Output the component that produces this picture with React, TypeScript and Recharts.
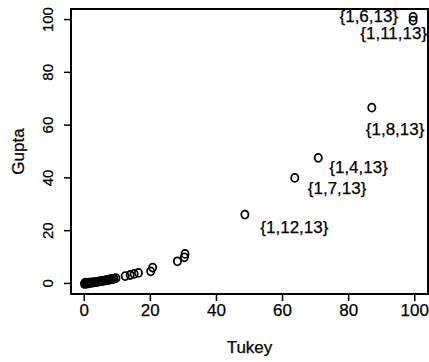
import { ScatterChart, Scatter, XAxis, YAxis, ReferenceArea } from "recharts";

const FONT = '"Liberation Sans", Arial, Helvetica, sans-serif';

// Tukey vs Gupta scores
const tukey = [
  99.5, 99.5, 87.0, 70.8, 63.7, 48.6,
  30.5, 30.3, 28.2, 20.7, 20.1, 16.4, 15.1, 13.9, 12.4,
  9.6, 9.0, 8.6, 8.2, 7.8, 7.4, 6.9, 6.5, 6.0, 5.6, 5.2, 4.8, 4.3, 3.9, 3.4, 3.0, 2.5, 2.2, 1.8,
  1.5, 1.2, 1.0, 0.8, 0.5, 0.3, 0.2, 0.1,
];
const gupta = [
  101.0, 99.6, 66.6, 47.6, 40.0, 26.1,
  11.2, 9.9, 8.4, 6.0, 4.6, 4.0, 3.6, 3.2, 2.8,
  2.0, 1.8, 1.7, 1.6, 1.5, 1.4, 1.3, 1.2, 1.1, 1.0, 0.9, 0.8, 0.7, 0.6, 0.5, 0.4, 0.3, 0.4, 0.1,
  0.3, 0.0, 0.2, -0.1, 0.1, 0.3, 0.0, -0.2,
];
const pointLabels = ["{1,6,13}", "{1,11,13}", "{1,8,13}", "{1,4,13}", "{1,7,13}", "{1,12,13}"];
const axisTicks = [0, 20, 40, 60, 80, 100];

// where each label sits relative to its point (px)
const labelPlacement: Record<string, { dx: number; dy: number; anchor: "start" | "end" }> = {
  "{1,6,13}": { dx: -15, dy: 5.5, anchor: "end" },
  "{1,11,13}": { dx: 14, dy: 18, anchor: "end" },
  "{1,8,13}": { dx: -6, dy: 27, anchor: "start" },
  "{1,4,13}": { dx: 11, dy: 15, anchor: "start" },
  "{1,7,13}": { dx: 13, dy: 16, anchor: "start" },
  "{1,12,13}": { dx: 15.5, dy: 18, anchor: "start" },
};

const data = tukey.map((x, i) => ({ x, y: gupta[i], name: pointLabels[i] ?? "" }));

const textStyle = { fontFamily: FONT, fill: "#000", stroke: "#000", strokeWidth: 0.25 };

function PointShape(props: any) {
  const { cx, cy, payload } = props;
  const place = labelPlacement[payload.name];
  return (
    <g>
      <ellipse cx={cx} cy={cy} rx={3.6} ry={4} fill="none" stroke="#000" strokeWidth={1.8} />
      {place && (
        <text x={cx + place.dx} y={cy + place.dy} textAnchor={place.anchor} fontSize={17} style={textStyle}>
          {payload.name}
        </text>
      )}
    </g>
  );
}

function XTick(props: any) {
  const { x, y, payload } = props;
  return (
    <text x={x} y={y + 12} textAnchor="middle" fontSize={17} style={textStyle}>
      {payload.value}
    </text>
  );
}

function YTick(props: any) {
  const { x, y, payload } = props;
  return (
    <text transform={`translate(${x - 8},${y}) rotate(-90)`} textAnchor="middle" fontSize={15} style={textStyle}>
      {payload.value}
    </text>
  );
}

export default function App() {
  return (
    <div style={{ position: "fixed", top: 0, left: 0, background: "#fff" }}>
      <ScatterChart width={429} height={362} margin={{ top: 9, right: 1, bottom: 0, left: 0 }}>
        <XAxis
          type="number"
          dataKey="x"
          domain={[-4, 104]}
          ticks={axisTicks}
          allowDataOverflow
          axisLine={false}
          tickLine={{ stroke: "#000", strokeWidth: 1.5 }}
          tickSize={7}
          tickMargin={3}
          height={68}
          tick={<XTick />}
          label={{
            content: (p: any) => {
              const vb = p.viewBox;
              return (
                <text x={vb.x + vb.width / 2} y={vb.y + 59} textAnchor="middle" fontSize={17} style={textStyle}>
                  Tukey
                </text>
              );
            },
          }}
        />
        <YAxis
          type="number"
          dataKey="y"
          domain={[-4, 104]}
          ticks={axisTicks}
          allowDataOverflow
          axisLine={false}
          tickLine={{ stroke: "#000", strokeWidth: 1.5 }}
          tickSize={7}
          tickMargin={3}
          width={71}
          tick={<YTick />}
          label={{
            content: (p: any) => {
              const vb = p.viewBox;
              return (
                <text
                  transform={`translate(${vb.x + 24},${vb.y + vb.height / 2}) rotate(-90)`}
                  textAnchor="middle"
                  fontSize={17}
                  style={textStyle}
                >
                  Gupta
                </text>
              );
            },
          }}
        />
        <ReferenceArea x1={-4} x2={104} y1={-4} y2={104} fill="none" stroke="#000" strokeWidth={2} ifOverflow="visible" />
        <Scatter data={data} shape={<PointShape />} isAnimationActive={false} />
      </ScatterChart>
    </div>
  );
}
